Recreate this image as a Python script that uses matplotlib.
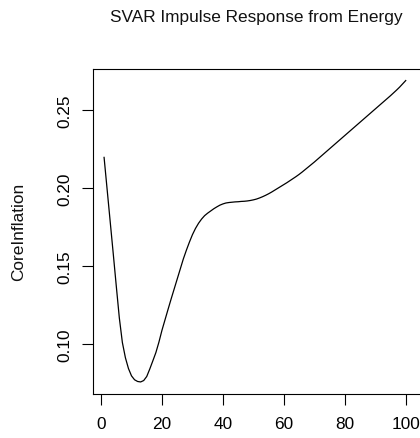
import numpy as np
import matplotlib
matplotlib.use('Agg')
import matplotlib.pyplot as plt

plt.rcParams['font.family'] = ['Liberation Sans', 'DejaVu Sans']

# Impulse response of CoreInflation to an Energy shock, horizons 1..100
horizon = list(range(1, 101))
coreInflation = [
    0.2195, 0.1990, 0.1785, 0.1580, 0.1372, 0.1168, 0.1010, 0.0912, 0.0843, 0.0796,
    0.0771, 0.0760, 0.0757, 0.0766, 0.0792, 0.0840, 0.0892, 0.0945, 0.1012, 0.1088,
    0.1155, 0.1222, 0.1288, 0.1352, 0.1416, 0.1480, 0.1544, 0.1600, 0.1652, 0.1700,
    0.1740, 0.1773, 0.1800, 0.1822, 0.1838, 0.1852, 0.1866, 0.1878, 0.1889, 0.1897,
    0.1903, 0.1906, 0.1908, 0.1910, 0.1911, 0.1913, 0.1914, 0.1916, 0.1919, 0.1923,
    0.1928, 0.1935, 0.1943, 0.1952, 0.1962, 0.1973, 0.1985, 0.1997, 0.2009, 0.2021,
    0.2033, 0.2046, 0.2059, 0.2072, 0.2086, 0.2101, 0.2117, 0.2133, 0.2149, 0.2165,
    0.2182, 0.2199, 0.2216, 0.2233, 0.2250, 0.2267, 0.2284, 0.2301, 0.2318, 0.2335,
    0.2352, 0.2369, 0.2386, 0.2403, 0.2420, 0.2437, 0.2454, 0.2471, 0.2488, 0.2505,
    0.2522, 0.2539, 0.2556, 0.2573, 0.2590, 0.2608, 0.2626, 0.2645, 0.2666, 0.2687,
]
xTicks = [0, 20, 40, 60, 80, 100]
yTicks = [0.10, 0.15, 0.20, 0.25]
yTickLabels = ['0.10', '0.15', '0.20', '0.25']

W, H = 420, 439
fig = plt.figure(figsize=(W / 100, H / 100), dpi=100)

# plot box in pixels (right side runs off the picture like the original)
left, right, top, bottom = 92.5, 424.0, 69.5, 395.0
ax = fig.add_axes([left / W, 1 - bottom / H, (right - left) / W, (bottom - top) / H])

ax.plot(horizon, coreInflation, color='black', linewidth=0.9)

# R style 4% padding on y
yr = max(coreInflation) - min(coreInflation)
ax.set_ylim(min(coreInflation) - 0.04 * yr, max(coreInflation) + 0.04 * yr)
ax.set_xlim(-2.8, 106.0)

ax.set_xticks(xTicks)
ax.set_xticklabels([str(t) for t in xTicks])
ax.set_yticks(yTicks)
ax.set_yticklabels(yTickLabels, rotation=90, va='center')

ax.tick_params(axis='both', direction='out', length=7.8, width=0.8,
               labelsize=12.4, colors='black')
ax.tick_params(axis='x', pad=8.0)
ax.tick_params(axis='y', pad=7.0)

for sp in ax.spines.values():
    sp.set_linewidth(0.8)
    sp.set_color('black')

fig.text(256 / W, 1 - 22 / H, 'SVAR Impulse Response from Energy',
         ha='center', va='baseline', fontsize=12.4, color='#111111')
fig.text(18.3 / W, 1 - 232 / H, 'CoreInflation', rotation=90,
         ha='center', va='center', fontsize=12.4, color='#111111')

fig.savefig('out.png', dpi=100)
